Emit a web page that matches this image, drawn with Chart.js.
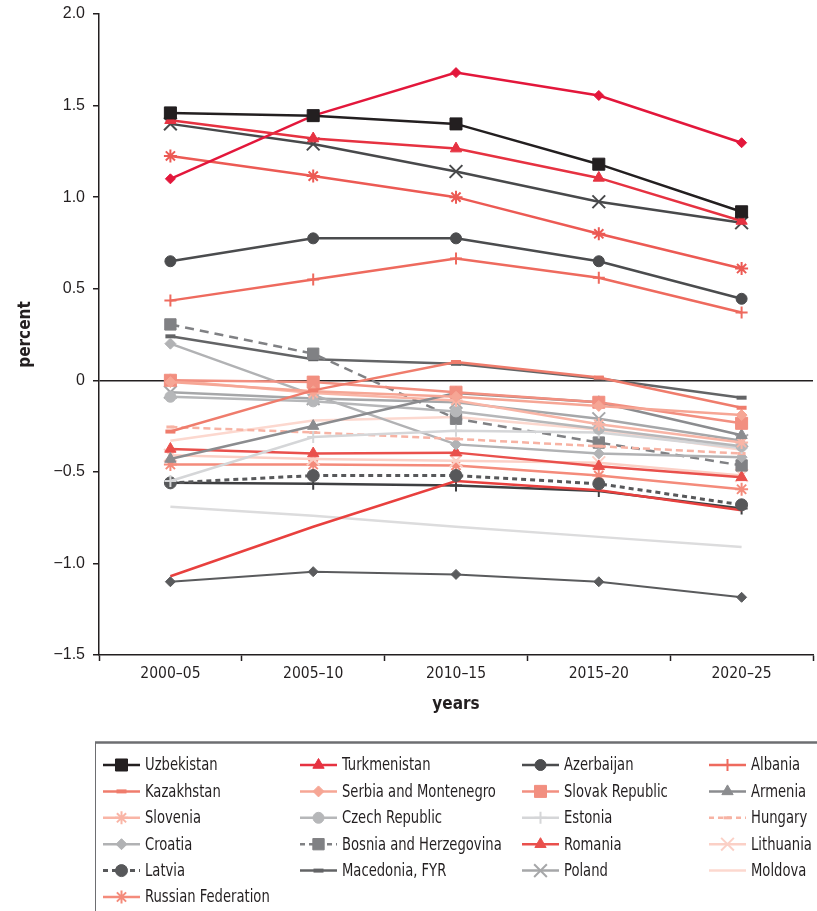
<!DOCTYPE html>
<html>
<head>
<meta charset="utf-8">
<title>Population growth by period</title>
<script src="https://cdn.jsdelivr.net/npm/chart.js@4.4.0/dist/chart.umd.min.js"></script>
<style>
    html, body { margin: 0; padding: 0; background: #fff; overflow: hidden; }
    #wrap { width: 817px; height: 911px; overflow: hidden; }
</style>
</head>
<body>
<div id="wrap"><canvas id="chart" width="824" height="911"></canvas></div>
<script>
// Categories
const periods = ['2000–05', '2005–10', '2010–15', '2015–20', '2020–25'];

// Countries shown in the legend
const uzbekistan = [1.46, 1.445, 1.40, 1.18, 0.92];
const turkmenistan = [1.42, 1.32, 1.265, 1.105, 0.87];
const azerbaijan = [0.65, 0.775, 0.775, 0.65, 0.445];
const albania = [0.435, 0.55, 0.665, 0.56, 0.37];
const kazakhstan = [-0.28, -0.055, 0.10, 0.015, -0.15];
const serbiaMontenegro = [-0.01, -0.06, -0.09, -0.14, -0.19];
const slovakRepublic = [0.0, -0.01, -0.065, -0.12, -0.235];
const armenia = [-0.43, -0.25, -0.07, -0.12, -0.30];
const slovenia = [0.0, -0.07, -0.11, -0.24, -0.34];
const czechRepublic = [-0.09, -0.115, -0.17, -0.265, -0.36];
const estonia = [-0.55, -0.31, -0.275, -0.285, -0.37];
const hungary = [-0.255, -0.285, -0.32, -0.36, -0.40];
const croatia = [0.20, -0.08, -0.35, -0.40, -0.42];
const bosnia = [0.305, 0.145, -0.21, -0.34, -0.465];
const romania = [-0.375, -0.40, -0.395, -0.47, -0.53];
const lithuania = [-0.41, -0.43, -0.44, -0.45, -0.52];
const latvia = [-0.56, -0.52, -0.52, -0.565, -0.68];
const macedonia = [0.24, 0.115, 0.09, 0.01, -0.095];
const poland = [-0.065, -0.10, -0.12, -0.21, -0.33];
const moldova = [-0.33, -0.22, -0.20, -0.27, -0.38];
const russia = [-0.46, -0.46, -0.465, -0.52, -0.595];

// Further series drawn in the plot but not named in the visible legend
const tajikistan = [1.10, 1.445, 1.68, 1.555, 1.297];
const kyrgyz = [1.40, 1.29, 1.14, 0.975, 0.86];
const turkey = [1.225, 1.115, 1.00, 0.80, 0.61];
const ukraine = [-1.10, -1.045, -1.06, -1.10, -1.185];
const georgia = [-1.07, -0.80, -0.55, -0.60, -0.71];
const bulgaria = [-0.69, -0.74, -0.80, -0.855, -0.91];
const belarus = [-0.56, -0.565, -0.575, -0.605, -0.70];

const NARROW = '"Liberation Sans Narrow", "Arial Narrow", "DejaVu Sans Condensed", sans-serif';
const INK = '#231f20';

/**
 * Build one line dataset
 */
function series(label, data, color, style, radius, opts = {}) {
    const stroked = ['cross', 'crossRot', 'star', 'line'].includes(style);
    return {
        label: label,
        data: data,
        borderColor: color,
        backgroundColor: color,
        borderWidth: opts.width || 2.5,
        borderDash: opts.dash || [],
        pointStyle: style || false,
        pointRadius: style ? radius : 0,
        pointHoverRadius: style ? radius : 0,
        pointBackgroundColor: color,
        pointBorderColor: color,
        pointBorderWidth: stroked ? (opts.pointWidth || 2) : 1,
        tension: 0,
        fill: false,
        inLegend: opts.inLegend !== false
    };
}

const datasets = [
    series('Uzbekistan', uzbekistan, '#231f20', 'rect', 8.5),
    series('Turkmenistan', turkmenistan, '#e63241', 'triangle', 6.5),
    series('Azerbaijan', azerbaijan, '#4b4c4e', 'circle', 5.5),
    series('Albania', albania, '#ee6a5e', 'cross', 6),
    series('Kazakhstan', kazakhstan, '#ef7c6c', 'line', 5, { pointWidth: 4 }),
    series('Serbia and Montenegro', serbiaMontenegro, '#f6a695', 'rectRot', 5.5),
    series('Slovak Republic', slovakRepublic, '#f28f80', 'rect', 8.5),
    series('Armenia', armenia, '#8b8c8f', 'triangle', 6.5),
    series('Slovenia', slovenia, '#f9b5a6', 'star', 6.5),
    series('Czech Republic', czechRepublic, '#b6b7b9', 'circle', 5.5),
    series('Estonia', estonia, '#d5d6d8', 'cross', 6),
    series('Hungary', hungary, '#f7b3a4', 'line', 4, { dash: [7, 4], pointWidth: 3 }),
    series('Croatia', croatia, '#b1b2b4', 'rectRot', 5.5),
    series('Bosnia and Herzegovina', bosnia, '#808184', 'rect', 8, { dash: [9, 6] }),
    series('Romania', romania, '#e9504c', 'triangle', 6.5),
    series('Lithuania', lithuania, '#fbd0c6', 'crossRot', 9),
    series('Latvia', latvia, '#57585a', 'circle', 6, { dash: [5, 4], width: 3 }),
    series('Macedonia, FYR', macedonia, '#636466', 'line', 5, { pointWidth: 4 }),
    series('Poland', poland, '#a6a7a9', 'crossRot', 9),
    series('Moldova', moldova, '#fcd8cf', false, 0),
    series('Russian Federation', russia, '#f48b7b', 'star', 6.5),
    series('Tajikistan', tajikistan, '#e3173b', 'rectRot', 5, { inLegend: false }),
    series('Kyrgyz Republic', kyrgyz, '#48494b', 'crossRot', 9, { inLegend: false }),
    series('Turkey', turkey, '#ec5a54', 'star', 6.5, { inLegend: false }),
    series('Ukraine', ukraine, '#5a5b5d', 'rectRot', 5, { inLegend: false, width: 2 }),
    series('Georgia', georgia, '#e8403e', false, 0, { inLegend: false }),
    series('Bulgaria', bulgaria, '#dcdcdd', false, 0, { inLegend: false }),
    series('Belarus', belarus, '#3e3f41', 'cross', 6, { inLegend: false })
];

// Legend grid placement
const legendCols = [103, 300, 522, 709];
const legendTop = 765;
const legendRowGap = 26.4;

/**
 * Four-column legend drawn under the plot
 */
const gridLegend = {
    id: 'gridLegend',
    afterDraw(chart) {
        const ctx = chart.ctx;
        const items = chart.data.datasets.filter(ds => ds.inLegend);
        ctx.save();

        // Box
        ctx.strokeStyle = '#6d6e71';
        ctx.lineWidth = 1;
        ctx.strokeRect(95.5, 742.5, 740, 200);
        ctx.lineWidth = 2.5;
        ctx.beginPath();
        ctx.moveTo(95, 742.5);
        ctx.lineTo(824, 742.5);
        ctx.stroke();

        items.forEach((ds, i) => {
            const x = legendCols[i % 4];
            const y = legendTop + Math.floor(i / 4) * legendRowGap;

            // Sample line
            ctx.strokeStyle = ds.borderColor;
            ctx.lineWidth = ds.borderWidth;
            ctx.setLineDash(ds.borderDash.length ? [5, 4] : []);
            ctx.beginPath();
            ctx.moveTo(x, y);
            ctx.lineTo(x + 37, y);
            ctx.stroke();
            ctx.setLineDash([]);

            // Marker
            if (ds.pointStyle) {
                ctx.fillStyle = ds.pointBackgroundColor;
                ctx.strokeStyle = ds.pointBorderColor;
                ctx.lineWidth = ds.pointBorderWidth;
                Chart.helpers.drawPoint(ctx, {
                    pointStyle: ds.pointStyle,
                    radius: ds.pointRadius,
                    borderWidth: ds.pointBorderWidth,
                    rotation: 0
                }, x + 18.5, y);
            }

            // Label, squeezed to a condensed look
            ctx.save();
            ctx.translate(x + 42, y + 1);
            ctx.scale(0.86, 1);
            ctx.font = '17px ' + NARROW;
            ctx.textBaseline = 'middle';
            ctx.textAlign = 'left';
            ctx.fillStyle = INK;
            ctx.fillText(ds.label, 0, 0);
            ctx.restore();
        });
        ctx.restore();
    }
};

const fmtTick = v => {
    if (v === 0) return '0';
    return (v < 0 ? '\u2212' : '') + Math.abs(v).toFixed(1);
};

new Chart(document.getElementById('chart'), {
    type: 'line',
    data: {
        labels: periods,
        datasets: datasets
    },
    options: {
        responsive: false,
        animation: false,
        devicePixelRatio: 1,
        layout: {
            padding: { top: 14, right: 0, bottom: 186, left: 0 }
        },
        plugins: {
            legend: { display: false },
            tooltip: { enabled: false }
        },
        scales: {
            x: {
                type: 'category',
                offset: true,
                afterFit: scale => {
                    scale.height = 70;
                    scale.paddingLeft = 0;
                    scale.paddingRight = 0;
                },
                border: { display: true, color: INK, width: 1.5 },
                grid: {
                    offset: true,
                    drawOnChartArea: false,
                    drawTicks: true,
                    tickLength: 6,
                    tickColor: INK,
                    tickWidth: 1.5
                },
                ticks: {
                    color: INK,
                    padding: 4,
                    font: { family: NARROW, size: 15.5 }
                },
                title: {
                    display: true,
                    text: 'years',
                    color: INK,
                    padding: { top: 0, bottom: 10 },
                    font: { family: NARROW, size: 17, weight: 'bold' }
                }
            },
            y: {
                min: -1.5,
                max: 2,
                afterFit: scale => {
                    scale.width = 99;
                    scale.paddingTop = 0;
                    scale.paddingBottom = 0;
                },
                border: { display: true, color: INK, width: 1.5 },
                grid: {
                    drawOnChartArea: true,
                    color: ctx => (ctx.tick && ctx.tick.value === 0 ? INK : 'rgba(0,0,0,0)'),
                    lineWidth: 1.5,
                    tickLength: 6,
                    tickColor: INK,
                    tickWidth: 1.5
                },
                ticks: {
                    stepSize: 0.5,
                    color: INK,
                    padding: 8,
                    font: { family: '"Liberation Sans", Arial, sans-serif', size: 16 },
                    callback: fmtTick
                },
                title: {
                    display: true,
                    text: 'percent',
                    color: INK,
                    padding: { top: 15, bottom: 0 },
                    font: { family: NARROW, size: 17, weight: 'bold' }
                }
            }
        }
    },
    plugins: [gridLegend]
});
</script>
</body>
</html>
